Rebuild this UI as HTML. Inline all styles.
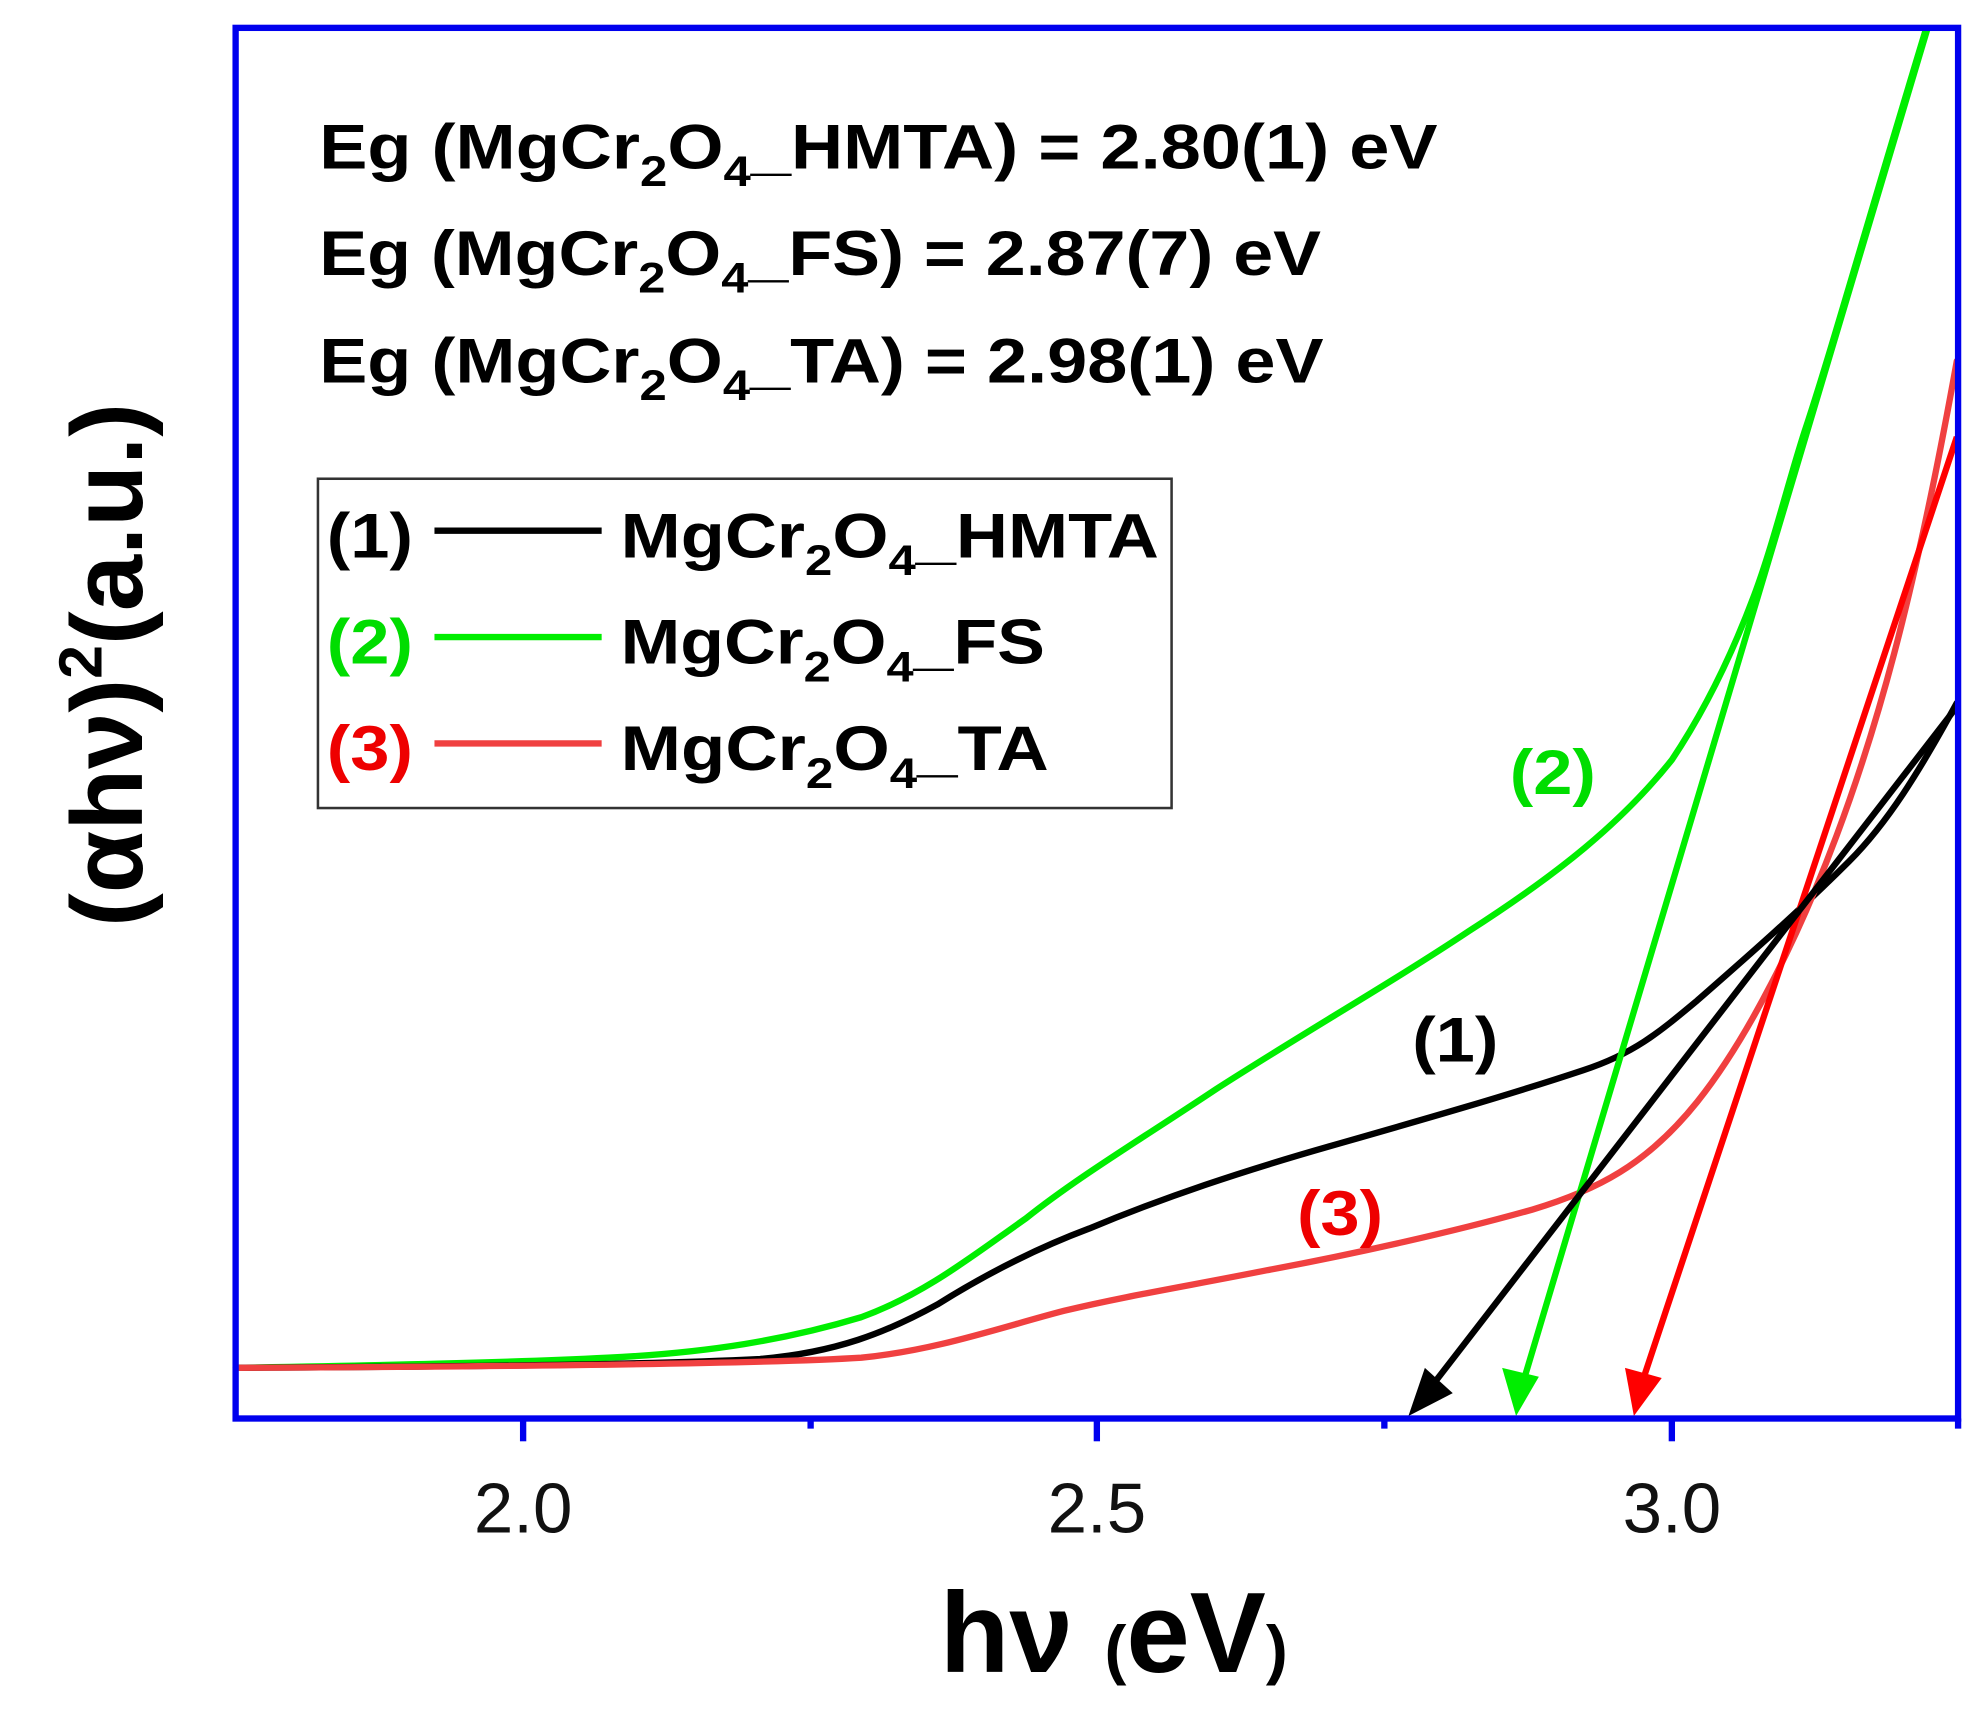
<!DOCTYPE html>
<html><head><meta charset="utf-8"><style>
html,body{margin:0;padding:0;background:#fff;}
svg{display:block;}
text{font-family:"Liberation Sans",Arial,sans-serif;}
</style></head><body>
<svg width="1986" height="1725" viewBox="0 0 1568 1362" xmlns="http://www.w3.org/2000/svg">
<rect width="1568" height="1362" fill="#fff"/>
<g fill="none" stroke-width="5" stroke-linejoin="round" stroke-linecap="round">
<path stroke="#00ee00" d="M186,1080 C300,1078 400,1076 480,1072 C560,1068 620,1058 680,1040 C730,1022 770,990 810,962 C850,930 900,900 960,860 C1030,815 1100,775 1160,735 C1230,690 1280,650 1320,600 C1350,555 1370,510 1385,470 C1400,430 1412,380 1425,340 C1445,280 1470,190 1520,25"/>
<path stroke="#000" d="M186,1080 C350,1079 500,1078 600,1073 C660,1068 700,1052 740,1030 C780,1005 820,985 860,970 C920,945 980,925 1050,905 C1120,885 1190,865 1250,845 C1290,832 1310,815 1340,790 C1380,755 1420,720 1460,680 C1490,650 1515,610 1545,555"/>
<path stroke="#f04040" d="M186,1080 C400,1079 600,1077 680,1072 C740,1066 790,1048 840,1035 C890,1023 940,1015 1000,1003 C1070,990 1150,972 1210,955 C1260,940 1300,920 1340,870 C1380,820 1420,740 1450,660 C1480,580 1510,480 1545,285"/>
</g>
<g stroke-width="5" fill="none">
<line x1="1522" y1="22" x2="1203" y2="1090" stroke="#00ee00"/>
<line x1="1545" y1="345" x2="1297" y2="1090" stroke="#ff0000"/>
<line x1="1545" y1="558" x2="1130" y2="1095" stroke="#000"/>
</g>
<polygon points="1197,1118 1186,1080 1215,1087" fill="#00ee00"/>
<polygon points="1290,1118 1283,1080 1312,1088" fill="#ff0000"/>
<polygon points="1112,1118 1125,1080 1147,1100" fill="#000"/>
<rect x="186" y="22" width="1360" height="1098" fill="none" stroke="#0000ee" stroke-width="5"/>
<g stroke="#0000ee" stroke-width="5">
<line x1="413" y1="1120" x2="413" y2="1138"/>
<line x1="866" y1="1120" x2="866" y2="1138"/>
<line x1="1320" y1="1120" x2="1320" y2="1138"/>
<line x1="640" y1="1120" x2="640" y2="1128"/>
<line x1="1093" y1="1120" x2="1093" y2="1128"/>
<line x1="1546" y1="1120" x2="1546" y2="1128"/>
</g>
<g font-size="56" text-anchor="middle" fill="#111">
<text x="413" y="1210">2.0</text>
<text x="866" y="1210">2.5</text>
<text x="1320" y="1210">3.0</text>
</g>
<text x="742" y="1320" font-size="90" font-weight="bold">hν <tspan font-size="52" font-weight="bold">(</tspan>eV<tspan font-size="52">)</tspan></text>
<text transform="translate(112,525) rotate(-90)" text-anchor="middle" font-size="80" font-weight="bold">(αhν)<tspan font-size="48" dy="-32">2</tspan><tspan dy="32">(a.u.)</tspan></text>
<g font-size="50" font-weight="bold" fill="#000">
<text x="252" y="133" textLength="883" lengthAdjust="spacingAndGlyphs">Eg (MgCr<tspan font-size="34" dy="14">2</tspan><tspan dy="-14">O</tspan><tspan font-size="34" dy="14">4</tspan><tspan dy="-14">_HMTA) = 2.80(1) eV</tspan></text>
<text x="252" y="217" textLength="791" lengthAdjust="spacingAndGlyphs">Eg (MgCr<tspan font-size="34" dy="14">2</tspan><tspan dy="-14">O</tspan><tspan font-size="34" dy="14">4</tspan><tspan dy="-14">_FS) = 2.87(7) eV</tspan></text>
<text x="252" y="302" textLength="793" lengthAdjust="spacingAndGlyphs">Eg (MgCr<tspan font-size="34" dy="14">2</tspan><tspan dy="-14">O</tspan><tspan font-size="34" dy="14">4</tspan><tspan dy="-14">_TA) = 2.98(1) eV</tspan></text>
</g>
<rect x="251" y="378" width="674" height="260" fill="none" stroke="#333" stroke-width="2"/>
<g stroke-width="5">
<line x1="343" y1="419" x2="475" y2="419" stroke="#000"/>
<line x1="343" y1="503" x2="475" y2="503" stroke="#00ee00"/>
<line x1="343" y1="587" x2="475" y2="587" stroke="#f04040"/>
</g>
<g font-size="50" font-weight="bold">
<text x="258" y="440" fill="#000" textLength="68" lengthAdjust="spacingAndGlyphs">(1)</text>
<text x="258" y="524" fill="#00dd00" textLength="68" lengthAdjust="spacingAndGlyphs">(2)</text>
<text x="258" y="608" fill="#ee0000" textLength="68" lengthAdjust="spacingAndGlyphs">(3)</text>
<text x="490" y="440" textLength="425" lengthAdjust="spacingAndGlyphs">MgCr<tspan font-size="34" dy="14">2</tspan><tspan dy="-14">O</tspan><tspan font-size="34" dy="14">4</tspan><tspan dy="-14">_HMTA</tspan></text>
<text x="490" y="524" textLength="335" lengthAdjust="spacingAndGlyphs">MgCr<tspan font-size="34" dy="14">2</tspan><tspan dy="-14">O</tspan><tspan font-size="34" dy="14">4</tspan><tspan dy="-14">_FS</tspan></text>
<text x="490" y="608" textLength="338" lengthAdjust="spacingAndGlyphs">MgCr<tspan font-size="34" dy="14">2</tspan><tspan dy="-14">O</tspan><tspan font-size="34" dy="14">4</tspan><tspan dy="-14">_TA</tspan></text>
</g>
<g font-size="50" font-weight="bold">
<text x="1192" y="627" fill="#00dd00" textLength="68" lengthAdjust="spacingAndGlyphs">(2)</text>
<text x="1115" y="838" fill="#000" textLength="68" lengthAdjust="spacingAndGlyphs">(1)</text>
<text x="1024" y="975" fill="#ee0000" textLength="68" lengthAdjust="spacingAndGlyphs">(3)</text>
</g>
</svg>
</body></html>
